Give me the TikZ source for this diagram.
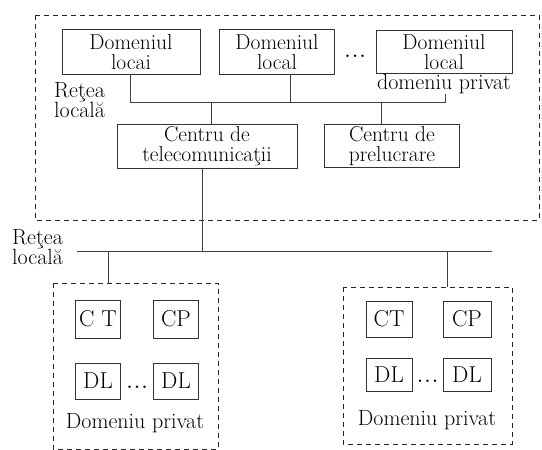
\documentclass[tikz,border=0pt]{standalone}
\usetikzlibrary{positioning,calc}
\tikzset{
  dombox/.style={rectangle, draw=black!80, line width=0.9pt, inner sep=1pt, align=center, font=\fontsize{21.5}{20.5}\selectfont},
  smallbox/.style={rectangle, draw=black!80, line width=0.9pt, inner sep=1pt, font=\fontsize{23}{20}\selectfont},
  lbl/.style={inner sep=0pt, align=left, font=\fontsize{22}{20.5}\selectfont},
  dots/.style={inner sep=0pt, font=\fontsize{30}{30}\selectfont},
  zone/.style={draw=black!85, dashed, dash pattern=on 5pt off 4pt, line width=1pt},
  link/.style={draw=black!75, line width=0.7pt}
}
\begin{document}
\begin{tikzpicture}[x=1pt,y=-1pt]
  \useasboundingbox (0,0) rectangle (542,450);
  % local zone
  \draw[zone] (35,15) rectangle (539,220);
  \node[dombox, minimum width=138pt, minimum height=45pt] (dl1) at (131,52) {Domeniul\\locai};
  \node[dombox, minimum width=115pt, minimum height=45pt] (dl2) at (277,52) {Domeniul\\local};
  \node[dombox, minimum width=136pt, minimum height=43pt] (dl3) at (444,52) {Domeniul\\local};
  \node[dots] at (355,56) {...};
  \node[lbl, anchor=north] (dlp) at (444,74) {domeniu privat};
  \node[lbl, anchor=north west] (rl1) at (54,82) {Reţea\\locală};
  \node[dombox, minimum width=180pt, minimum height=44pt] (ct) at (207,146) {Centru de\\telecomunicaţii};
  \node[dombox, minimum width=135pt, minimum height=43pt] (cp) at (392,146) {Centru de\\prelucrare};
  % bus 1
  \coordinate (b1a) at (130,102);
  \coordinate (b1b) at (445,102);
  \draw[link] (dl1.south -| b1a) -- (b1a) -- (b1b) -- (b1b |- dlp.south);
  \draw[link] (dl2.south -| 290,0) -- (290,102);
  \draw[link] (211,102) -- (ct.north -| 211,0);
  \draw[link] (381,102) -- (cp.north -| 381,0);
  % bus 2
  \coordinate (b2a) at (77,251);
  \coordinate (b2b) at (492,251);
  \node[lbl, anchor=north west] (rl2) at (12,229) {Reţea\\locală};
  \draw[link] (ct.south -| 202,0) -- (202,251);
  \draw[link] (b2a) -- (b2b);
  % private zones
  \draw[zone] (53,283) rectangle (218,449);
  \draw[zone] (343,287) rectangle (512,444);
  \draw[link] (108,251) -- (108,283);
  \draw[link] (447,251) -- (447,287);
  \node[smallbox, minimum width=45pt, minimum height=38pt] (ctl) at (98,319) {C T};
  \node[smallbox, minimum width=45pt, minimum height=38pt] (cpl) at (176,319) {CP};
  \node[smallbox, minimum width=45pt, minimum height=36pt] (dla) at (98,381) {DL};
  \node[smallbox, minimum width=45pt, minimum height=36pt] (dlb) at (176,381) {DL};
  \node[dots] at ($(dla.east)!0.5!(dlb.west)+(0,6)$) {...};
  \node[lbl] (pl) at (135,423) {Domeniu privat};
  \node[smallbox, minimum width=46pt, minimum height=36pt] (ctr) at (389,319) {CT};
  \node[smallbox, minimum width=48pt, minimum height=36pt] (cpr) at (467,319) {CP};
  \node[smallbox, minimum width=46pt, minimum height=33pt] (dlc) at (389,375) {DL};
  \node[smallbox, minimum width=48pt, minimum height=33pt] (dld) at (467,375) {DL};
  \node[dots] at ($(dlc.east)!0.5!(dld.west)+(0,6)$) {...};
  \node[lbl] (pr) at (427,420) {Domeniu privat};
\end{tikzpicture}
\end{document}
